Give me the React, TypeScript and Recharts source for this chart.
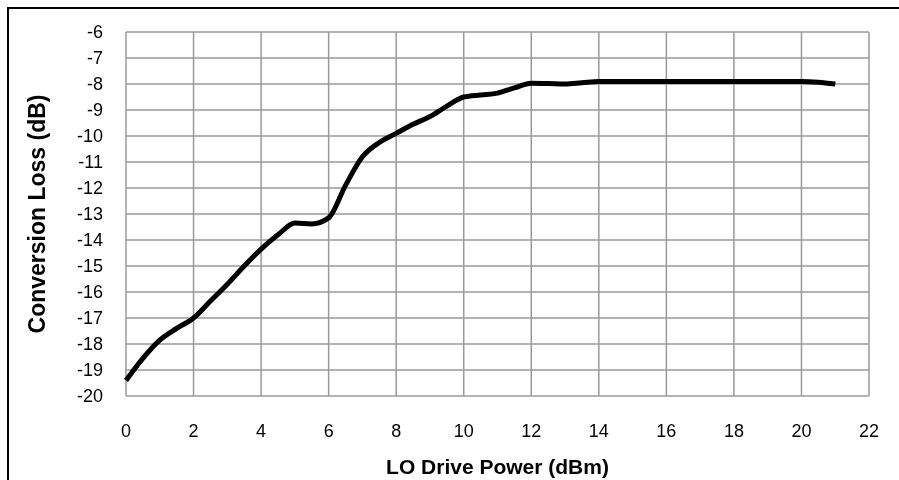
import { CartesianGrid, Label, Line, LineChart, XAxis, YAxis } from "recharts";

// LO drive power (dBm)
const loPower = [
  0, 0.5, 1, 1.5, 2, 2.5, 3, 3.5, 4, 4.5, 5, 5.5, 6, 6.5, 7, 7.5, 8, 8.5, 9, 9.5, 10,
  10.5, 11, 11.5, 12, 12.5, 13, 13.5, 14, 15, 16, 17, 18, 19, 20, 20.5, 21,
];
// conversion loss (dB)
const convLoss = [
  -19.4, -18.55, -17.85, -17.4, -17.0, -16.35, -15.7, -15.0, -14.35, -13.8, -13.35,
  -13.38, -13.15, -11.9, -10.8, -10.25, -9.9, -9.55, -9.25, -8.85, -8.5, -8.42,
  -8.35, -8.15, -7.97, -7.98, -8.0, -7.95, -7.9, -7.9, -7.9, -7.9, -7.9, -7.9,
  -7.9, -7.93, -8.0,
];
const xTicks = [0, 2, 4, 6, 8, 10, 12, 14, 16, 18, 20, 22];
const yTicks = [-20, -19, -18, -17, -16, -15, -14, -13, -12, -11, -10, -9, -8, -7, -6];

const data = loPower.map((x, i) => ({ x, loss: convLoss[i] }));

const font = "'Liberation Sans', Arial, sans-serif";

export default function App() {
  return (
    <>
      <div
        style={{
          position: "fixed",
          left: 7,
          top: 7,
          width: 1000,
          height: 1000,
          border: "2px solid #000",
        }}
      />
      <div style={{ position: "fixed", left: 0, top: 0, fontFamily: font }}>
        <LineChart
          width={899}
          height={480}
          data={data}
          margin={{ top: 32, right: 30, bottom: 0, left: 0 }}
        >
          <CartesianGrid stroke="#9a9a9a" strokeWidth={1.5} />
          <XAxis
            dataKey="x"
            type="number"
            domain={[0, 22]}
            ticks={xTicks}
            interval={0}
            height={84}
            axisLine={false}
            tickLine={false}
            tickSize={0}
            tickMargin={28}
            tick={{ fill: "#000", fontSize: 18, fontFamily: font }}
          >
            <Label
              value="LO Drive Power (dBm)"
              position="insideBottom"
              offset={6}
              style={{ fill: "#000", fontSize: 21, fontWeight: "bold", fontFamily: font }}
            />
          </XAxis>
          <YAxis
            type="number"
            domain={[-20, -6]}
            ticks={yTicks}
            interval={0}
            width={126}
            axisLine={false}
            tickLine={false}
            tickSize={0}
            tickMargin={23}
            tick={{ fill: "#000", fontSize: 18, fontFamily: font }}
          >
            <Label
              value="Conversion Loss (dB)"
              angle={-90}
              position="insideLeft"
              offset={37}
              style={{
                fill: "#000",
                fontSize: 23,
                fontWeight: "bold",
                fontFamily: font,
                textAnchor: "middle",
              }}
            />
          </YAxis>
          <Line
            type="monotone"
            dataKey="loss"
            stroke="#000"
            strokeWidth={5}
            dot={false}
            isAnimationActive={false}
          />
        </LineChart>
      </div>
    </>
  );
}
